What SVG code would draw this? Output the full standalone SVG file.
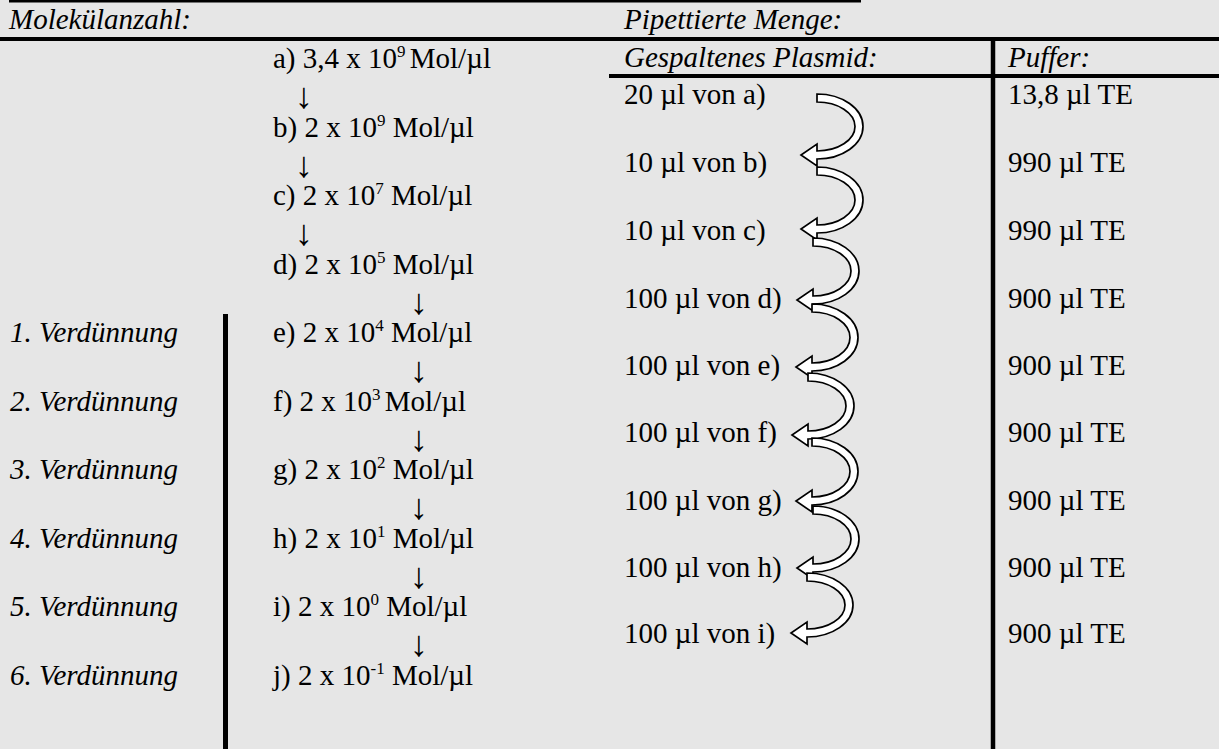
<svg xmlns="http://www.w3.org/2000/svg" width="1219" height="749" viewBox="0 0 1219 749">
<style>
.t{font-family:"Liberation Serif",serif;font-size:29px;fill:#000}
.i{font-style:italic}
.s{font-size:17px}
.ar{font-family:"Liberation Serif",serif;font-size:36px;fill:#000}
.rule{stroke:#000;fill:none}
.ca{fill:#fff;stroke:#000;stroke-width:1.7;stroke-linejoin:miter}
</style>
<rect x="0" y="0" width="1219" height="749" fill="#e6e6e6"/>
<g id="table-lines">
<line class="rule" x1="9" y1="1.2" x2="861" y2="1.2" stroke-width="2.5"/>
<line class="rule" x1="0" y1="39" x2="1219" y2="39" stroke-width="4"/>
<line class="rule" x1="609" y1="76" x2="1219" y2="76" stroke-width="4"/>
<line class="rule" x1="993" y1="39" x2="993" y2="749" stroke-width="4.5"/>
<line class="rule" x1="225.5" y1="314" x2="225.5" y2="749" stroke-width="5"/>
</g>
<g id="headers">
<text class="t i" x="9" y="29">Molekülanzahl:</text>
<text class="t i" x="624" y="29">Pipettierte Menge:</text>
<text class="t i" x="624" y="67">Gespaltenes Plasmid:</text>
<text class="t i" x="1008" y="67">Puffer:</text>
</g>
<g id="mol-a"><text class="t" x="273" y="68">a) 3,4 x 10<tspan class="s" dy="-11">9 </tspan><tspan dy="11">Mol/µl</tspan></text></g>
<g id="mol-b"><text class="t" x="273" y="136.5">b) 2 x 10<tspan class="s" dy="-11">9</tspan><tspan dy="11"> Mol/µl</tspan></text></g>
<g id="mol-c"><text class="t" x="273" y="205">c) 2 x 10<tspan class="s" dy="-11">7</tspan><tspan dy="11"> Mol/µl</tspan></text></g>
<g id="mol-d"><text class="t" x="273" y="273.5">d) 2 x 10<tspan class="s" dy="-11">5</tspan><tspan dy="11"> Mol/µl</tspan></text></g>
<g id="mol-e"><text class="t" x="273" y="342">e) 2 x 10<tspan class="s" dy="-11">4</tspan><tspan dy="11"> Mol/µl</tspan></text></g>
<g id="mol-f"><text class="t" x="273" y="410.5">f) 2 x 10<tspan class="s" dy="-11">3 </tspan><tspan dy="11">Mol/µl</tspan></text></g>
<g id="mol-g"><text class="t" x="273" y="479">g) 2 x 10<tspan class="s" dy="-11">2</tspan><tspan dy="11"> Mol/µl</tspan></text></g>
<g id="mol-h"><text class="t" x="273" y="547.5">h) 2 x 10<tspan class="s" dy="-11">1</tspan><tspan dy="11"> Mol/µl</tspan></text></g>
<g id="mol-i"><text class="t" x="273" y="616">i) 2 x 10<tspan class="s" dy="-11">0</tspan><tspan dy="11"> Mol/µl</tspan></text></g>
<g id="mol-j"><text class="t" x="273" y="684.5">j) 2 x 10<tspan class="s" dy="-11">-1</tspan><tspan dy="11"> Mol/µl</tspan></text></g>
<g id="dilution-labels">
<text class="t i" x="10" y="342">1. Verdünnung</text>
<text class="t i" x="10" y="410.5">2. Verdünnung</text>
<text class="t i" x="10" y="479">3. Verdünnung</text>
<text class="t i" x="10" y="547.5">4. Verdünnung</text>
<text class="t i" x="10" y="616">5. Verdünnung</text>
<text class="t i" x="10" y="684.5">6. Verdünnung</text>
</g>
<g id="pipette">
<text class="t" x="624" y="104">20 µl von a)</text>
<text class="t" x="624" y="172">10 µl von b)</text>
<text class="t" x="624" y="240">10 µl von c)</text>
<text class="t" x="624" y="308">100 µl von d)</text>
<text class="t" x="624" y="375">100 µl von e)</text>
<text class="t" x="624" y="442">100 µl von f)</text>
<text class="t" x="624" y="510">100 µl von g)</text>
<text class="t" x="624" y="577">100 µl von h)</text>
<text class="t" x="624" y="643">100 µl von i)</text>
</g>
<g id="buffer">
<text class="t" x="1008" y="104">13,8 µl TE</text>
<text class="t" x="1008" y="172">990 µl TE</text>
<text class="t" x="1008" y="240">990 µl TE</text>
<text class="t" x="1008" y="308">900 µl TE</text>
<text class="t" x="1008" y="375">900 µl TE</text>
<text class="t" x="1008" y="442">900 µl TE</text>
<text class="t" x="1008" y="510">900 µl TE</text>
<text class="t" x="1008" y="577">900 µl TE</text>
<text class="t" x="1008" y="643">900 µl TE</text>
</g>
<g id="connectors">
<text class="ar" x="295" y="108">↓</text>
<text class="ar" x="295" y="176.5">↓</text>
<text class="ar" x="295" y="245">↓</text>
<text class="ar" x="410" y="313.5">↓</text>
<text class="ar" x="410" y="382">↓</text>
<text class="ar" x="410" y="450.5">↓</text>
<text class="ar" x="410" y="519">↓</text>
<text class="ar" x="410" y="587.5">↓</text>
<text class="ar" x="410" y="656">↓</text>
<path class="ca" d="M817,94 A46,32.5 0 0 1 817,159 L817,166 L801,155 L817,144 L817,151 A38,24.5 0 0 0 817,102 Z"/>
<path class="ca" d="M817,167 A46,33 0 0 1 817,233 L817,240 L801,229 L817,218 L817,225 A38,25 0 0 0 817,175 Z"/>
<path class="ca" d="M813,238 A46,33 0 0 1 813,304 L813,311 L797,300 L813,289 L813,296 A38,25 0 0 0 813,246 Z"/>
<path class="ca" d="M812,304 A46,33.5 0 0 1 812,371 L812,378 L796,367 L812,356 L812,363 A38,25.5 0 0 0 812,312 Z"/>
<path class="ca" d="M808,373 A46,33 0 0 1 808,439 L808,446 L792,435 L808,424 L808,431 A38,25 0 0 0 808,381 Z"/>
<path class="ca" d="M812,438 A46,33.5 0 0 1 812,505 L812,512 L796,501 L812,490 L812,497 A38,25.5 0 0 0 812,446 Z"/>
<path class="ca" d="M813,506 A46,33 0 0 1 813,572 L813,579 L797,568 L813,557 L813,564 A38,25 0 0 0 813,514 Z"/>
<path class="ca" d="M807,573 A46,32 0 0 1 807,637 L807,644 L791,633 L807,622 L807,629 A38,24 0 0 0 807,581 Z"/>
</g>
</svg>
